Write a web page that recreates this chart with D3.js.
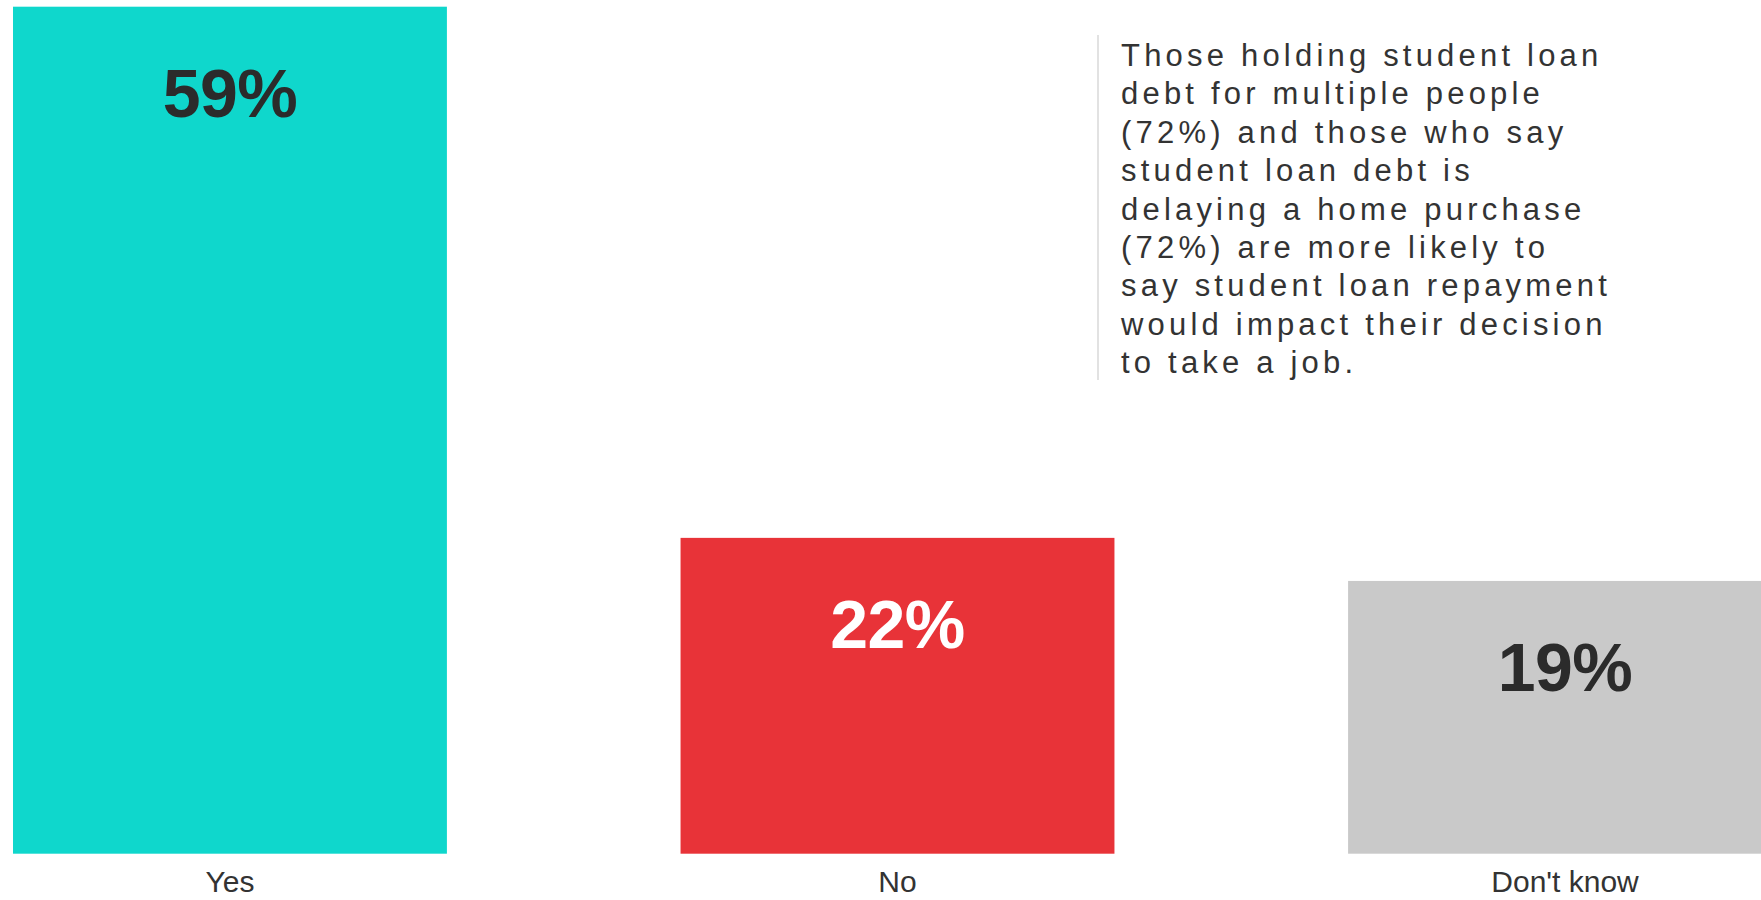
<!DOCTYPE html>
<html>
<head>
<meta charset="utf-8">
<script src="https://cdn.jsdelivr.net/npm/d3@7"></script>
<style>
  html, body { margin: 0; padding: 0; background: #fff; }
  svg { display: block; font-family: "Liberation Sans", Arial, Helvetica, sans-serif; }
</style>
</head>
<body>
<svg id="chart" width="1761" height="900"></svg>
<script>
// Survey answers: would student loan repayment impact the decision to take a job?
const categories = ["Yes", "No", "Don't know"];
const shares = [59, 22, 19];
const barColors = ["#0fd7cc", "#e83338", "#c9c9c9"];
const labelColors = ["#2b2b2b", "#ffffff", "#2b2b2b"];
const noteLines = [
  "Those holding student loan",
  "debt for multiple people",
  "(72%) and those who say",
  "student loan debt is",
  "delaying a home purchase",
  "(72%) are more likely to",
  "say student loan repayment",
  "would impact their decision",
  "to take a job."
];

const svg = d3.select("#chart");
const baseY = 853.7, topY = 6.7;

const x = d3.scaleBand()
  .domain(categories)
  .range([13, 1782])
  .paddingInner(0.35)
  .paddingOuter(0);

const y = d3.scaleLinear()
  .domain([0, d3.max(shares)])
  .range([baseY, topY]);

const data = categories.map((c, i) => ({ cat: c, v: shares[i], fill: barColors[i], lc: labelColors[i] }));

// Bars
svg.append("g").selectAll("rect")
  .data(data)
  .join("rect")
  .attr("x", d => x(d.cat))
  .attr("y", d => y(d.v))
  .attr("width", x.bandwidth())
  .attr("height", d => y(0) - y(d.v))
  .attr("fill", d => d.fill);

// Value labels inside the top of each bar
svg.append("g").selectAll("text")
  .data(data)
  .join("text")
  .attr("x", d => x(d.cat) + x.bandwidth() / 2)
  .attr("y", d => y(d.v) + 110)
  .attr("text-anchor", "middle")
  .attr("font-size", 68)
  .attr("font-weight", "bold")
  .attr("letter-spacing", -0.5)
  .attr("fill", d => d.lc)
  .text(d => d.v + "%");

// Category axis
const axis = svg.append("g")
  .attr("transform", `translate(0,${baseY})`)
  .call(d3.axisBottom(x).tickSize(0).tickPadding(17.5));
axis.select(".domain").remove();
axis.selectAll("text")
  .attr("font-size", 30)
  .attr("font-family", "Liberation Sans, Arial, sans-serif")
  .attr("fill", "#333");

// Side note with a thin rule at its left
const note = svg.append("g");
note.append("line")
  .attr("x1", 1098).attr("x2", 1098)
  .attr("y1", 35).attr("y2", 380)
  .attr("stroke", "#d9d9d9")
  .attr("stroke-width", 1.5);

note.append("text")
  .attr("font-size", 31)
  .attr("letter-spacing", 4.2)
  .attr("fill", "#333")
  .selectAll("tspan")
  .data(noteLines)
  .join("tspan")
  .attr("x", 1121)
  .attr("y", (d, i) => 66 + i * 38.4)
  .text(d => d);
</script>
</body>
</html>
